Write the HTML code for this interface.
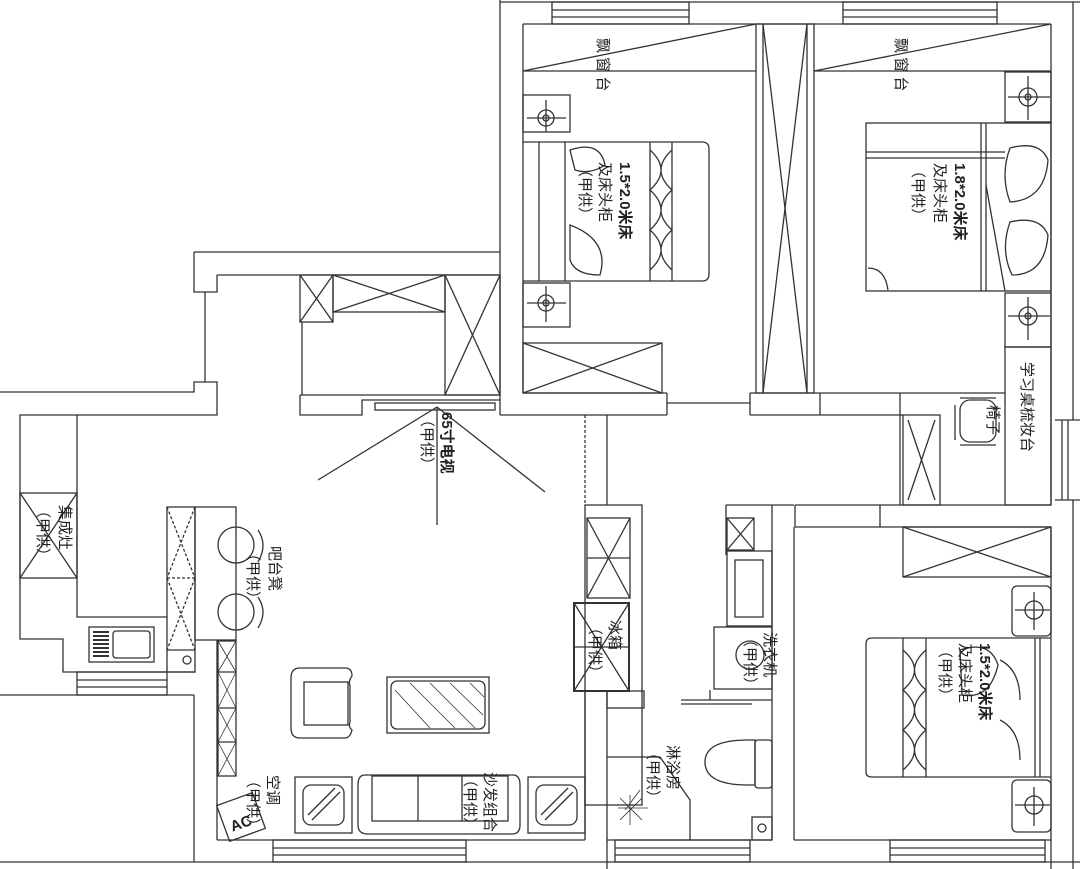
<!DOCTYPE html>
<html><head><meta charset="utf-8"><style>
html,body{margin:0;padding:0;background:#fff;}
svg{display:block;}
text{font-family:"Liberation Sans","Noto Sans CJK SC",sans-serif;fill:#222;font-size:15px;}
</style></head><body>
<svg width="1080" height="869" viewBox="0 0 1080 869" xmlns="http://www.w3.org/2000/svg">
<g fill="none" stroke="#333" stroke-width="1.3">
<!-- top block outer -->
<line x1="500" y1="0" x2="500" y2="415"/>
<line x1="500" y1="2" x2="1080" y2="2"/>
<line x1="1073" y1="2" x2="1073" y2="420"/>
<rect x="552" y="2" width="137" height="22"/>
<line x1="552" y1="10" x2="689" y2="10"/><line x1="552" y1="17" x2="689" y2="17"/>
<rect x="843" y="2" width="154" height="22"/>
<line x1="843" y1="10" x2="997" y2="10"/><line x1="843" y1="17" x2="997" y2="17"/>
<line x1="523" y1="24" x2="1051" y2="24"/>
<line x1="523" y1="24" x2="523" y2="393"/>
<line x1="1051" y1="24" x2="1051" y2="505"/>
<!-- bay -->
<line x1="523" y1="71" x2="756" y2="71"/><line x1="523" y1="71" x2="756" y2="24"/>
<line x1="814" y1="71" x2="1051" y2="71"/><line x1="814" y1="71" x2="1051" y2="24"/>
<!-- wardrobe middle -->
<rect x="756" y="24" width="58" height="369"/>
<line x1="763" y1="24" x2="763" y2="393"/><line x1="807" y1="24" x2="807" y2="393"/>
<line x1="763" y1="24" x2="807" y2="393"/><line x1="807" y1="24" x2="763" y2="393"/>
<!-- bedroom1 -->
<rect x="523" y="95" width="47" height="37"/><circle cx="546" cy="118" r="8"/><circle cx="546" cy="118" r="3"/><line x1="527" y1="118" x2="566" y2="118"/><line x1="546" y1="100" x2="546" y2="132"/>
<rect x="523" y="283" width="47" height="44"/><circle cx="546" cy="303" r="8"/><circle cx="546" cy="303" r="3"/><line x1="527" y1="303" x2="566" y2="303"/><line x1="546" y1="286" x2="546" y2="322"/>
<path d="M523 142 H702 Q709 142 709 149 V274 Q709 281 702 281 H523"/>
<line x1="539" y1="142" x2="539" y2="281"/><line x1="565" y1="142" x2="565" y2="281"/>
<line x1="650" y1="142" x2="650" y2="281"/><line x1="672" y1="142" x2="672" y2="281"/>
<path d="M650 150 Q672 170 650 190 Q672 210 650 230 Q672 250 650 270 M672 150 Q650 170 672 190 Q650 210 672 230 Q650 250 672 270"/>
<path d="M570 150 Q600 140 605 165 Q590 175 575 170 Z M570 225 Q610 240 600 275 Q575 275 570 260 Z"/>
<rect x="523" y="343" width="139" height="50"/><line x1="523" y1="343" x2="662" y2="393"/><line x1="662" y1="343" x2="523" y2="393"/>
<!-- bedroom2 -->
<rect x="1005" y="72" width="46" height="50"/><circle cx="1028" cy="97" r="9"/><circle cx="1028" cy="97" r="3"/><line x1="1008" y1="97" x2="1050" y2="97"/><line x1="1028" y1="76" x2="1028" y2="120"/>
<rect x="1005" y="293" width="46" height="54"/><circle cx="1028" cy="316" r="9"/><circle cx="1028" cy="316" r="3"/><line x1="1008" y1="316" x2="1050" y2="316"/><line x1="1028" y1="297" x2="1028" y2="340"/>
<rect x="866" y="123" width="185" height="168"/>
<line x1="866" y1="152" x2="1005" y2="152"/><line x1="866" y1="158" x2="1005" y2="158"/>
<line x1="981" y1="123" x2="981" y2="291"/><line x1="986" y1="123" x2="986" y2="291"/>
<line x1="986" y1="185" x2="1005" y2="291"/>
<path d="M1010 148 Q1040 140 1048 160 Q1045 200 1010 202 Q1000 175 1010 148 Z M1010 222 Q1040 215 1048 235 Q1045 275 1012 275 Q1000 250 1010 222 Z M868 268 Q885 268 888 290"/>
<!-- desk & chair -->
<rect x="1005" y="347" width="46" height="158"/>
<rect x="960" y="400" width="36" height="42" rx="10"/>
<line x1="955" y1="405" x2="955" y2="440"/><line x1="960" y1="398" x2="996" y2="398"/><line x1="960" y1="445" x2="996" y2="445"/>
<!-- wall row 393/415 -->
<line x1="523" y1="393" x2="667" y2="393"/><line x1="750" y1="393" x2="1005" y2="393"/>
<line x1="500" y1="415" x2="667" y2="415"/><line x1="750" y1="415" x2="903" y2="415"/>
<line x1="667" y1="393" x2="667" y2="415"/><line x1="750" y1="393" x2="750" y2="415"/>
<line x1="667" y1="403" x2="750" y2="403"/>
<line x1="820" y1="393" x2="820" y2="415"/><line x1="900" y1="393" x2="900" y2="505"/>
<rect x="903" y="415" width="37" height="90"/><line x1="908" y1="420" x2="935" y2="500"/><line x1="935" y1="420" x2="908" y2="500"/>
<line x1="1055" y1="420" x2="1080" y2="420"/><line x1="1055" y1="500" x2="1080" y2="500"/>
<line x1="1062" y1="420" x2="1062" y2="500"/><line x1="1068" y1="420" x2="1068" y2="500"/>
<!-- column -->
<line x1="585" y1="415" x2="585" y2="505" stroke-dasharray="3,2"/><line x1="607" y1="415" x2="607" y2="505"/>
<!-- wall 505/527 -->
<line x1="880" y1="505" x2="1051" y2="505"/><line x1="795" y1="527" x2="1051" y2="527"/>
<line x1="880" y1="505" x2="880" y2="527"/>
<line x1="795" y1="505" x2="880" y2="505"/><line x1="795" y1="505" x2="795" y2="527"/>
<!-- bedroom3 -->
<line x1="794" y1="527" x2="794" y2="840"/>
<line x1="1051" y1="527" x2="1051" y2="869"/><line x1="1073" y1="500" x2="1073" y2="869"/>
<rect x="903" y="527" width="148" height="50"/><line x1="903" y1="527" x2="1051" y2="577"/><line x1="1051" y1="527" x2="903" y2="577"/>
<rect x="1012" y="586" width="39" height="50" rx="5"/><circle cx="1034" cy="610" r="9"/><line x1="1015" y1="610" x2="1050" y2="610"/><line x1="1034" y1="592" x2="1034" y2="630"/>
<rect x="1012" y="780" width="39" height="52" rx="5"/><circle cx="1034" cy="805" r="9"/><line x1="1015" y1="805" x2="1050" y2="805"/><line x1="1034" y1="787" x2="1034" y2="826"/>
<path d="M1051 638 H872 Q866 638 866 644 V772 Q866 777 872 777 H1051"/>
<line x1="903" y1="638" x2="903" y2="777"/><line x1="926" y1="638" x2="926" y2="777"/>
<path d="M903 650 Q926 670 903 690 Q926 710 903 730 Q926 750 903 770 M926 650 Q903 670 926 690 Q903 710 926 730 Q903 750 926 770"/>
<line x1="1035" y1="638" x2="1035" y2="777"/><line x1="1040" y1="638" x2="1040" y2="777"/>
<path d="M960 650 Q990 640 998 665 Q990 700 962 695 Z M1000 660 Q1020 670 1020 700 M1000 720 Q1020 730 1020 760"/>
<!-- fridge column -->
<rect x="585" y="505" width="57" height="300"/>
<line x1="607" y1="505" x2="607" y2="505"/>
<rect x="587" y="518" width="43" height="80"/>
<line x1="587" y1="518" x2="630" y2="598"/><line x1="630" y1="518" x2="587" y2="598"/><line x1="587" y1="558" x2="630" y2="558"/>
<rect x="574" y="603" width="55" height="88" stroke-width="2"/>
<line x1="574" y1="603" x2="629" y2="691"/><line x1="629" y1="603" x2="574" y2="691"/><line x1="574" y1="647" x2="629" y2="647"/>
<line x1="607" y1="691" x2="607" y2="869"/><line x1="585" y1="691" x2="585" y2="840"/>
<rect x="607" y="691" width="37" height="17"/>
<!-- bathroom -->
<line x1="726" y1="505" x2="794" y2="505"/><line x1="772" y1="505" x2="772" y2="840"/>
<line x1="726" y1="505" x2="726" y2="555"/>
<rect x="727" y="518" width="27" height="32"/><line x1="727" y1="518" x2="754" y2="550"/><line x1="754" y1="518" x2="727" y2="550"/>
<rect x="727" y="551" width="45" height="75"/><rect x="735" y="560" width="28" height="57"/>
<rect x="714" y="627" width="58" height="62"/><circle cx="750" cy="655" r="14"/>
<line x1="681" y1="700" x2="772" y2="700"/><line x1="681" y1="704" x2="752" y2="704"/><line x1="710" y1="690" x2="710" y2="700"/>
<path d="M755 740 H748 Q705 740 705 762 Q705 785 748 785 H755 Z"/><rect x="755" y="740" width="17" height="48" rx="3"/>
<path d="M607 757 H660 L690 800 V840"/>
<rect x="752" y="817" width="20" height="23"/><circle cx="762" cy="828" r="4"/>
<g stroke-width="0.8"><line x1="625" y1="810" x2="640" y2="790"/><line x1="618" y1="808" x2="648" y2="808"/><line x1="630" y1="795" x2="630" y2="825"/><line x1="620" y1="798" x2="642" y2="820"/><line x1="620" y1="820" x2="642" y2="798"/></g>
<!-- bottom wall -->
<line x1="217" y1="840" x2="585" y2="840"/><line x1="607" y1="840" x2="772" y2="840"/><line x1="794" y1="840" x2="1051" y2="840"/>
<line x1="0" y1="862" x2="1080" y2="862"/>
<rect x="273" y="840" width="193" height="22"/><line x1="273" y1="848" x2="466" y2="848"/><line x1="273" y1="855" x2="466" y2="855"/>
<rect x="615" y="840" width="135" height="22"/><line x1="615" y1="848" x2="750" y2="848"/><line x1="615" y1="855" x2="750" y2="855"/>
<rect x="890" y="840" width="155" height="22"/><line x1="890" y1="848" x2="1045" y2="848"/><line x1="890" y1="855" x2="1045" y2="855"/>
<!-- left upper walls -->
<line x1="194" y1="252" x2="500" y2="252"/><line x1="217" y1="275" x2="500" y2="275"/>
<path d="M194 252 V292 H217 V275"/><line x1="205" y1="292" x2="205" y2="382"/>
<path d="M0 392 H194 V382 H217 V415 H20 V639 H63 V672 H195"/>
<path d="M77 415 V617 H167"/>
<rect x="20" y="493" width="57" height="85"/><line x1="20" y1="493" x2="77" y2="578"/><line x1="77" y1="493" x2="20" y2="578"/>
<rect x="89" y="627" width="65" height="35"/><rect x="113" y="631" width="37" height="27" rx="3"/>
<g stroke-width="2"><line x1="93" y1="632" x2="109" y2="632"/><line x1="93" y1="636" x2="109" y2="636"/><line x1="93" y1="640" x2="109" y2="640"/><line x1="93" y1="644" x2="109" y2="644"/><line x1="93" y1="648" x2="109" y2="648"/><line x1="93" y1="652" x2="109" y2="652"/><line x1="93" y1="656" x2="109" y2="656"/></g>
<rect x="77" y="672" width="90" height="23"/><line x1="77" y1="680" x2="167" y2="680"/><line x1="77" y1="687" x2="167" y2="687"/>
<line x1="0" y1="695" x2="194" y2="695"/><line x1="194" y1="695" x2="194" y2="862"/>
<!-- counter & bar -->
<rect x="167" y="507" width="28" height="165"/>
<g stroke-dasharray="3,2"><line x1="167" y1="507" x2="195" y2="578"/><line x1="195" y1="507" x2="167" y2="578"/><line x1="167" y1="578" x2="195" y2="650"/><line x1="195" y1="578" x2="167" y2="650"/><line x1="167" y1="578" x2="195" y2="578"/></g>
<line x1="167" y1="650" x2="195" y2="650"/><circle cx="187" cy="660" r="4"/>
<rect x="195" y="507" width="41" height="133"/>
<circle cx="236" cy="545" r="18"/><circle cx="236" cy="612" r="18"/>
<path d="M258 530 Q268 545 258 562 M258 597 Q268 612 258 628"/>
<line x1="217" y1="640" x2="217" y2="840"/><line x1="236" y1="640" x2="236" y2="640"/>
<rect x="218" y="641" width="18" height="135"/>
<g stroke-width="0.8"><line x1="218" y1="641" x2="236" y2="672"/><line x1="236" y1="641" x2="218" y2="672"/><line x1="218" y1="672" x2="236" y2="708"/><line x1="236" y1="672" x2="218" y2="708"/><line x1="218" y1="708" x2="236" y2="742"/><line x1="236" y1="708" x2="218" y2="742"/><line x1="218" y1="742" x2="236" y2="776"/><line x1="236" y1="742" x2="218" y2="776"/></g>
<line x1="218" y1="672" x2="236" y2="672"/><line x1="218" y1="708" x2="236" y2="708"/><line x1="218" y1="742" x2="236" y2="742"/>
<!-- upper wardrobe -->
<rect x="300" y="275" width="33" height="47"/><line x1="300" y1="275" x2="333" y2="322"/><line x1="333" y1="275" x2="300" y2="322"/>
<rect x="333" y="275" width="112" height="37"/><line x1="333" y1="275" x2="445" y2="312"/><line x1="445" y1="275" x2="333" y2="312"/>
<rect x="445" y="275" width="55" height="120"/><line x1="445" y1="275" x2="500" y2="395"/><line x1="500" y1="275" x2="445" y2="395"/>
<line x1="302" y1="322" x2="302" y2="395"/><line x1="300" y1="395" x2="500" y2="395"/>
<path d="M300 395 V415 H362 V400 H500"/>
<rect x="375" y="403" width="120" height="7"/>
<line x1="437" y1="407" x2="437" y2="525"/><line x1="437" y1="407" x2="318" y2="480"/><line x1="437" y1="407" x2="545" y2="492"/>
<!-- living furniture -->
<path d="M300 668 H345 Q352 668 352 676 Q348 681 350 686 V722 Q348 727 352 730 Q350 738 345 738 H300 Q291 738 291 728 V678 Q291 668 300 668 Z"/>
<rect x="304" y="682" width="44" height="43"/>
<rect x="387" y="677" width="102" height="56"/><rect x="391" y="681" width="94" height="48" rx="6"/>
<g stroke-width="0.8"><line x1="395" y1="690" x2="430" y2="728"/><line x1="410" y1="683" x2="455" y2="728"/><line x1="430" y1="683" x2="475" y2="728"/><line x1="450" y1="683" x2="483" y2="715"/><line x1="470" y1="683" x2="484" y2="697"/></g>
<rect x="295" y="777" width="57" height="56"/><rect x="303" y="785" width="41" height="40" rx="8"/>
<line x1="308" y1="815" x2="335" y2="788"/><line x1="312" y1="820" x2="340" y2="792"/>
<rect x="528" y="777" width="57" height="56"/><rect x="536" y="785" width="41" height="40" rx="8"/>
<line x1="541" y1="815" x2="568" y2="788"/><line x1="545" y1="820" x2="573" y2="792"/>
<path d="M365 775 Q358 775 358 785 V825 Q358 834 368 834 H512 Q520 834 520 825 V785 Q520 775 513 775 Z"/>
<rect x="372" y="776" width="136" height="45"/><line x1="418" y1="776" x2="418" y2="821"/><line x1="462" y1="776" x2="462" y2="821"/>
<rect x="222" y="798" width="38" height="38" transform="rotate(-20 241 817)"/>
</g>
<!-- labels -->
<g transform="rotate(90)">
<text x="38" y="-598" font-size="13">飘 窗 台</text>
<text x="38" y="-896" font-size="13">飘 窗 台</text>
<text x="162" y="-620" font-weight="bold">1.5*2.0米床</text>
<text x="162" y="-600">及床头柜</text>
<text x="162" y="-580">（甲供）</text>
<text x="163" y="-955" font-weight="bold">1.8*2.0米床</text>
<text x="163" y="-935">及床头柜</text>
<text x="163" y="-913">（甲供）</text>
<text x="362" y="-1022" font-size="14">学习桌梳妆台</text>
<text x="405" y="-988" font-size="14">椅子</text>
<text x="412" y="-442" font-weight="bold">65寸电视</text>
<text x="412" y="-422">（甲供）</text>
<text x="505" y="-60">集成灶</text>
<text x="503" y="-38">（甲供）</text>
<text x="546" y="-270">吧台凳</text>
<text x="546" y="-248">（甲供）</text>
<text x="620" y="-610">冰箱</text>
<text x="620" y="-590">（甲供）</text>
<text x="632" y="-765">洗衣机</text>
<text x="632" y="-745">（甲供）</text>
<text x="643" y="-980" font-weight="bold">1.5*2.0米床</text>
<text x="643" y="-960">及床头柜</text>
<text x="643" y="-940">（甲供）</text>
<text x="745" y="-668">淋浴房</text>
<text x="745" y="-648">（甲供）</text>
<text x="775" y="-268">空调</text>
<text x="773" y="-248">（甲供）</text>
<text x="772" y="-485">沙发组合</text>
<text x="772" y="-465">（甲供）</text>
</g>
<text x="228" y="828" font-size="14" font-weight="bold" transform="rotate(-20 241 817)">AC</text>
</svg>
</body></html>
